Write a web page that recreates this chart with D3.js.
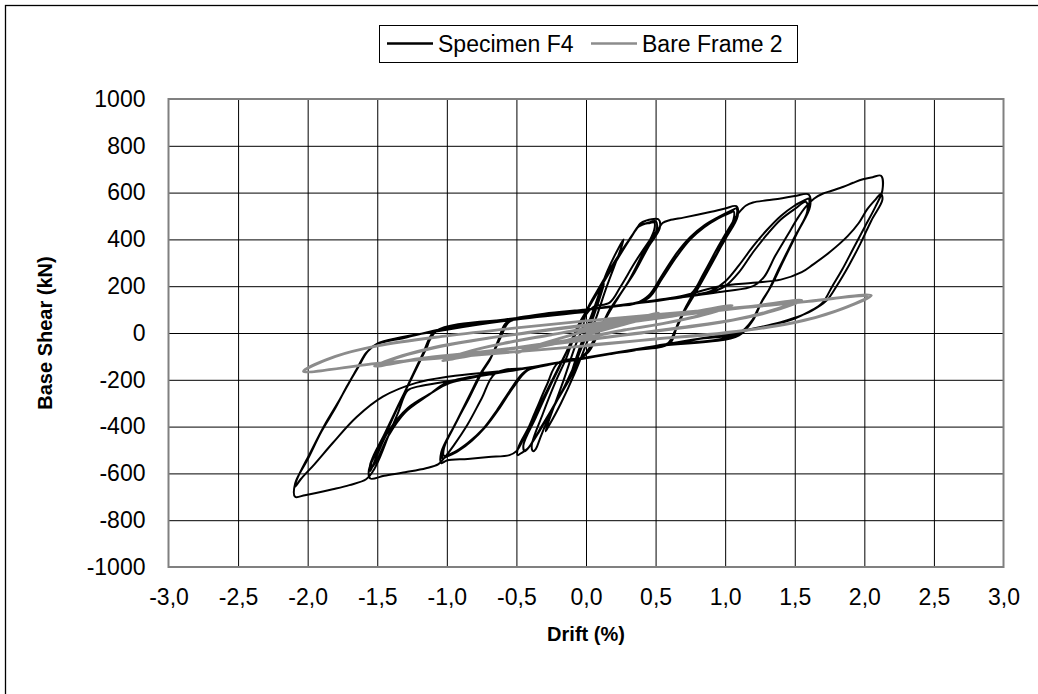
<!DOCTYPE html>
<html><head><meta charset="utf-8">
<script src="https://cdn.jsdelivr.net/npm/d3@7"></script>
<style>
body{margin:0;background:#fff;}
text{font-family:"Liberation Sans",Arial,Helvetica,sans-serif;fill:#000;}
</style>
</head><body>
<svg id="chart" width="1038" height="694"></svg>
<script>
// ---------- data ----------
const xTicks = [-3,-2.5,-2,-1.5,-1,-0.5,0,0.5,1,1.5,2,2.5,3];
const yTicks = [-1000,-800,-600,-400,-200,0,200,400,600,800,1000];
const seriesNames = ["Specimen F4","Bare Frame 2"];
const xTitle = "Drift (%)";
const yTitle = "Base Shear (kN)";

// Specimen F4 – [drift %, base shear kN]
const f4Elastic = [[0,0],[0.04,60],[0.09,150],[0.12,200],[0.10,160],[0.04,50],[-0.02,-40],[-0.07,-120],[-0.11,-190],[-0.09,-150],[-0.03,-40],[0.03,50],[0.10,170],[0.13,210],[0.11,170],[0.03,30],[-0.05,-90],[-0.12,-200],[-0.10,-160],[-0.02,-20],[0.06,110],[0.15,260],[0.24,370],[0.27,400],[0.25,360],[0.15,200],[0.07,60],[0,-50],[-0.08,-170],[-0.18,-300],[-0.27,-400],[-0.29,-420],[-0.27,-380],[-0.16,-200],[-0.08,-60],[-0.02,30]];
const f4Cycle05 = [[0,90],[0.10,200],[0.20,300],[0.30,390],[0.36,442],[0.39,468],[0.43,480],[0.52,486],[0.53,448],[0.45,370],[0.35,260],[0.25,170],[0.17,100],[0.12,40],[0.06,-30],[0,-90],[-0.04,-110],[-0.12,-200],[-0.22,-300],[-0.32,-400],[-0.38,-460],[-0.42,-495],[-0.47,-515],[-0.49,-522],[-0.49,-495],[-0.40,-390],[-0.30,-270],[-0.20,-150],[-0.14,-80],[-0.08,0],[-0.02,70],
  [0.02,110],[0.12,210],[0.22,310],[0.32,405],[0.38,455],[0.45,472],[0.50,478],[0.51,445],[0.42,345],[0.32,235],[0.22,140],[0.15,70],[0.09,0],[0.02,-80],[-0.05,-115],[-0.14,-215],[-0.25,-330],[-0.34,-425],[-0.40,-480],[-0.44,-505],[-0.45,-480],[-0.36,-360],[-0.26,-230],[-0.17,-120],[-0.11,-40],[-0.05,40],
  [0.01,100],[0.11,200],[0.23,320],[0.33,415],[0.38,458],[0.46,470],[0.49,472],[0.49,440],[0.40,330],[0.30,215],[0.20,125],[0.13,55],[0.07,-15],[0,-85],[-0.06,-118],[-0.16,-235],[-0.26,-350],[-0.33,-450],[-0.36,-495],[-0.38,-505],[-0.39,-480],[-0.31,-345],[-0.22,-210],[-0.14,-105],[-0.09,-25],[-0.02,60]];
const f4Cycle10 = [[0.05,110],[0.17,130],[0.25,200],[0.35,300],[0.45,390],[0.52,445],[0.55,470],[0.60,482],[0.70,493],[0.80,505],[0.90,518],[1.00,532],[1.08,542],[1.09,500],[1.00,400],[0.90,300],[0.80,200],[0.72,114],[0.66,40],[0.60,-40],[0.40,-68],[0.20,-88],[0,-106],[-0.20,-127],[-0.28,-220],[-0.36,-330],[-0.44,-440],[-0.50,-505],[-0.55,-522],[-0.70,-530],[-0.85,-538],[-1.00,-545],[-1.04,-556],[-1.04,-510],[-0.95,-400],[-0.85,-290],[-0.75,-170],[-0.69,-114],[-0.63,-30],[-0.58,40],[-0.50,64],[-0.25,82],[0,100],[0.20,115],[0.35,125],
  [0.45,160],[0.55,250],[0.65,340],[0.75,410],[0.85,460],[0.95,495],[1.05,525],[1.08,532],[1.08,495],[0.98,380],[0.88,270],[0.78,165],[0.71,95],[0.65,20],[0.60,-45],[0.30,-76],[0,-106],[-0.30,-140],[-0.42,-160],[-0.52,-230],[-0.62,-320],[-0.72,-400],[-0.82,-460],[-0.92,-505],[-1.02,-535],[-1.03,-540],[-1.03,-500],[-0.94,-390],[-0.84,-270],[-0.75,-165],[-0.68,-100],[-0.62,-20],[-0.56,45],[-0.30,80],[0,100],[0.30,122],
  [0.45,150],[0.55,235],[0.65,325],[0.75,400],[0.85,452],[0.95,490],[1.04,515],[1.06,520],[1.06,485],[0.97,375],[0.87,260],[0.77,155],[0.70,85],[0.64,10],[0.58,-48],[0.30,-76],[0,-106],[-0.30,-140],[-0.44,-165],[-0.54,-240],[-0.64,-330],[-0.74,-410],[-0.85,-470],[-0.95,-510],[-1.02,-525],[-1.02,-490],[-0.93,-380],[-0.83,-265],[-0.74,-160],[-0.67,-90],[-0.61,-15],[-0.55,48],[-0.30,82],[0,100],[0.30,122],[0.60,145]];
const f4Cycle15 = [[0.75,165],[0.85,260],[0.95,370],[1.05,470],[1.10,515],[1.15,545],[1.20,558],[1.30,567],[1.40,575],[1.50,585],[1.60,592],[1.61,540],[1.52,430],[1.42,310],[1.33,200],[1.27,143],[1.20,60],[1.10,0],[0.80,-26],[0.50,-56],[0,-106],[-0.40,-147],[-0.65,-172],[-0.75,-280],[-0.85,-390],[-0.95,-480],[-1.02,-535],[-1.06,-560],[-1.15,-578],[-1.30,-595],[-1.45,-610],[-1.55,-622],[-1.56,-585],[-1.47,-470],[-1.37,-340],[-1.27,-210],[-1.17,-85],[-1.10,0],[-1.00,21],[-0.50,64],[0,100],[0.50,140],[0.80,165],
  [0.90,180],[1.00,220],[1.10,290],[1.20,370],[1.30,440],[1.40,500],[1.50,545],[1.58,570],[1.60,575],[1.60,530],[1.50,410],[1.40,290],[1.32,190],[1.26,130],[1.20,55],[1.10,-5],[0.50,-56],[0,-106],[-0.50,-157],[-0.98,-214],[-1.11,-256],[-1.28,-320],[-1.42,-420],[-1.50,-520],[-1.55,-590],[-1.55,-560],[-1.46,-450],[-1.36,-325],[-1.26,-200],[-1.16,-75],[-1.08,5],[-1.00,20],[-0.50,62],[0,100],[0.50,140],[0.90,175],
  [1.00,200],[1.10,260],[1.20,345],[1.30,420],[1.40,485],[1.50,530],[1.58,560],[1.59,520],[1.49,400],[1.39,280],[1.31,180],[1.25,120],[1.19,50],[1.10,-10],[0.50,-58],[0,-108],[-0.50,-158],[-1.00,-212],[-1.13,-265],[-1.30,-340],[-1.42,-440],[-1.50,-540],[-1.54,-575],[-1.54,-545],[-1.45,-435],[-1.35,-310],[-1.25,-190],[-1.15,-70],[-1.08,8],[-0.50,62],[0,98],[0.50,138],[1.00,178]];
const f4Cycle20 = [[1.20,200],[1.28,240],[1.36,330],[1.45,420],[1.52,490],[1.58,540],[1.64,575],[1.70,595],[1.76,607],[1.85,625],[1.92,642],[1.99,657],[2.06,666],[2.12,672],[2.13,610],[2.08,540],[2.00,450],[1.92,360],[1.84,270],[1.77,200],[1.70,130],[1.60,90],[1.50,62],[1.40,44],[1.00,-6],[0.50,-56],[0,-106],[-0.50,-157],[-1.00,-207],[-1.20,-228],[-1.28,-245],[-1.35,-340],[-1.42,-440],[-1.48,-530],[-1.53,-590],[-1.58,-625],[-1.70,-650],[-1.82,-668],[-1.94,-684],[-2.02,-693],[-2.09,-700],[-2.09,-643],[-2.00,-540],[-1.90,-420],[-1.80,-320],[-1.72,-230],[-1.65,-157],[-1.58,-85],[-1.51,-50],[-1.30,-20],[-1.00,21],[-0.50,64],[0,100],[0.68,157],[0.96,200],
  [1.20,215],[1.40,228],[1.55,260],[1.63,292],[1.75,345],[1.88,414],[1.96,470],[2.02,528],[2.08,570],[2.12,595],[2.13,570],[2.05,480],[1.97,380],[1.89,290],[1.80,200],[1.73,140],[1.62,95],[1.50,65],[1.40,46],[1.00,-5],[0.50,-55],[0,-105],[-0.50,-155],[-0.98,-186],[-1.22,-213],[-1.46,-272],[-1.65,-360],[-1.82,-470],[-1.95,-560],[-2.05,-625],[-2.09,-657],[-2.08,-630],[-1.98,-510],[-1.88,-395],[-1.78,-295],[-1.70,-210],[-1.64,-150],[-1.57,-80],[-1.50,-45],[-1.00,14],[-0.50,58],[0,90]];

// Bare Frame 2 – [drift %, base shear kN]
const bfCycle05 = [[0,0],[0.20,40],[0.40,68],[0.52,85],[0.40,58],[0.20,25],[0,-8],[-0.20,-42],[-0.40,-68],[-0.50,-85],[-0.38,-58],[-0.20,-25],[0,8]];
const bfCycle10 = [[0.25,40],[0.50,62],[0.75,88],[1.05,118],[0.85,78],[0.60,45],[0.30,15],[0,-20],[-0.30,-45],[-0.60,-72],[-0.85,-95],[-1.03,-118],[-0.85,-80],[-0.60,-45],[-0.30,-12],[0,18],
  [0.30,45],[0.60,70],[1.03,115],[0.82,75],[0.55,40],[0.25,10],[0,-18],[-0.30,-48],[-0.65,-78],[-1.02,-115],[-0.82,-75],[-0.55,-40],[-0.25,-8],[0,20]];
const bfCycle15 = [[0.30,50],[0.60,72],[0.90,95],[1.20,115],[1.55,140],[1.35,95],[1.10,60],[0.80,30],[0.40,0],[0,-30],[-0.40,-58],[-0.80,-85],[-1.20,-112],[-1.52,-142],[-1.32,-97],[-1.10,-62],[-0.80,-30],[-0.40,2],[0,32],
  [0.35,55],[0.75,82],[1.15,110],[1.52,136],[1.30,90],[1.05,55],[0.70,25],[0.35,-2],[0,-28],[-0.40,-56],[-0.80,-84],[-1.20,-110],[-1.50,-138],[-1.28,-92],[-1.05,-58],[-0.70,-22],[-0.35,8],[0,35]];
const bfCycle20 = [[0.40,68],[0.80,92],[1.20,112],[1.60,135],[2.05,160],[1.80,95],[1.50,45],[1.00,2],[0.50,-25],[0,-55],[-0.50,-80],[-1.00,-105],[-1.50,-130],[-2.03,-164],[-1.80,-100],[-1.50,-55],[-1.00,-12],[-0.50,22],[0,52],[0.50,78],[1.00,104],[1.50,130],[2.02,155],[1.78,90],[1.48,42],[1.00,0],[0.50,-26],[0,-52]];

const f4Data = [].concat(f4Elastic, f4Cycle05, f4Cycle10, f4Cycle15, f4Cycle20);
const bfData = [].concat(bfCycle05, bfCycle10, bfCycle15, bfCycle20);

// ---------- drawing ----------
const svg = d3.select("#chart");
const L = 168.5, R = 1003.5, T = 99, B = 567;
const x = d3.scaleLinear().domain([-3,3]).range([L,R]);
const y = d3.scaleLinear().domain([-1000,1000]).range([B,T]);
const loc = d3.formatLocale({decimal:",",thousands:".",grouping:[3],currency:["",""],minus:"-"});
const fx = loc.format(".1f"), fy = loc.format("d");

svg.append("rect").attr("width",1038).attr("height",694).attr("fill","#fff");
// outer chart border (only left/top visible in the picture)
svg.append("rect").attr("x",5.5).attr("y",5.5).attr("width",1200).attr("height",1200)
  .attr("fill","none").attr("stroke","#000").attr("stroke-width",1.3);

// grid
const gx = svg.append("g").attr("transform",`translate(0,${B})`)
  .call(d3.axisBottom(x).tickValues(xTicks.slice(1,-1)).tickSize(-(B-T)).tickFormat(""));
const gy = svg.append("g").attr("transform",`translate(${L},0)`)
  .call(d3.axisLeft(y).tickValues(yTicks.slice(1,-1)).tickSize(-(R-L)).tickFormat(""));
[gx,gy].forEach(g=>{g.select(".domain").remove();g.selectAll("line").attr("stroke","#000").attr("stroke-width",1);});

// tick labels
const ax = svg.append("g").attr("transform",`translate(0,${B})`)
  .call(d3.axisBottom(x).tickValues(xTicks).tickSize(0).tickPadding(22).tickFormat(fx));
const ay = svg.append("g").attr("transform",`translate(${L},0)`)
  .call(d3.axisLeft(y).tickValues(yTicks).tickSize(0).tickPadding(23).tickFormat(fy));
[ax,ay].forEach(g=>{g.select(".domain").remove();g.selectAll("text").attr("font-size",23).attr("font-family","Liberation Sans, Arial, sans-serif").attr("fill","#000");});

// series
const line = d3.line().x(d=>x(d[0])).y(d=>y(d[1])).curve(d3.curveCatmullRom.alpha(0.5));
svg.append("path").datum(f4Data).attr("d",line).attr("fill","none").attr("stroke","#000").attr("stroke-width",2).attr("stroke-linejoin","round");
svg.append("path").datum(bfData).attr("d",line).attr("fill","none").attr("stroke","#8c8c8c").attr("stroke-width",2.8).attr("stroke-linejoin","round");

// plot border
svg.append("rect").attr("x",L).attr("y",T).attr("width",R-L).attr("height",B-T)
  .attr("fill","none").attr("stroke","#808080").attr("stroke-width",2);

// axis titles
svg.append("text").attr("x",(L+R)/2).attr("y",641).attr("text-anchor","middle")
  .attr("font-size",20).attr("font-weight","bold").text(xTitle);
svg.append("text").attr("transform",`translate(52,${(T+B)/2}) rotate(-90)`).attr("text-anchor","middle")
  .attr("font-size",20).attr("font-weight","bold").text(yTitle);

// legend
const lg = svg.append("g");
lg.append("rect").attr("x",379.5).attr("y",25.5).attr("width",418).attr("height",37)
  .attr("fill","#fff").attr("stroke","#000").attr("stroke-width",1);
const legendItems = [{name:seriesNames[0],color:"#000",x0:387},{name:seriesNames[1],color:"#8c8c8c",x0:591}];
legendItems.forEach(it=>{
  lg.append("line").attr("x1",it.x0).attr("x2",it.x0+46).attr("y1",43.5).attr("y2",43.5)
    .attr("stroke",it.color).attr("stroke-width",2.5);
  lg.append("text").attr("x",it.x0+51).attr("y",51.5).attr("font-size",23).text(it.name);
});
</script>
</body></html>
